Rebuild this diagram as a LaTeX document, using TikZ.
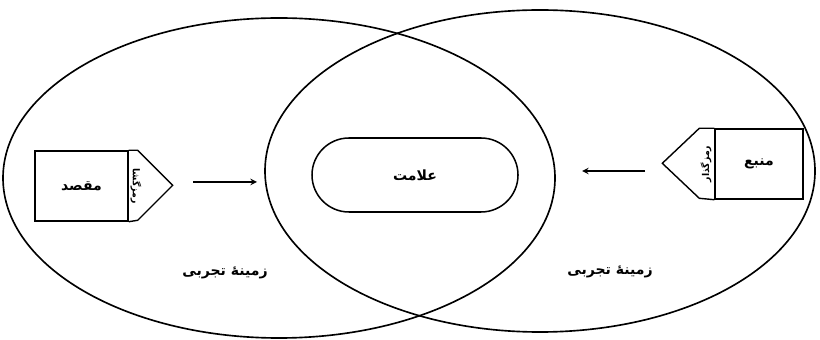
\documentclass[tikz,border=0pt]{standalone}
\usepackage{fontspec}
\newfontfamily\farsi[Script=Arabic]{DejaVu Sans}
\TeXXeTstate=1
\usepackage{tikz}
\usetikzlibrary{positioning}

\tikzset{
  fa/.style={font=\farsi\bfseries\large},
  box/.style={draw, line width=1.2pt, minimum width=2.79cm, minimum height=2.1cm},
}

\begin{document}
\begin{tikzpicture}[x=0.03cm, y=0.03cm, >=stealth]
                \useasboundingbox (0,0) rectangle (820,339);

                % Fields of experience
                \draw[line width=1.4pt] (279,161) ellipse [x radius=276, y radius=160];
                \draw[line width=1.4pt] (540,168) ellipse [x radius=275, y radius=161];
                \node[fa] (fieldL) at (225,66) {\beginR زمینهٔ تجربی\endR};
                \node[fa] (fieldR) at (610,67) {\beginR زمینهٔ تجربی\endR};

                % Signal
                \node[draw, line width=1.3pt, fa, minimum width=6.18cm, minimum height=2.22cm,
                      rounded corners=1.11cm] (signal) at (415,164) {\beginR علامت\endR};

                % Destination and decoder
                \node[box, fa] (dest) at (81.5,153) {\beginR مقصد\endR};
                \draw[line width=1.2pt] (dest.north east) -- ++(9,0) -- ++(35,-35) -- ++(-35,-35) -- (dest.south east);
                \node[rotate=-90, inner sep=0pt, font=\farsi\bfseries\footnotesize] (decoder) at (136,153) {\beginR رمزگشا\endR};

                % Source and encoder
                \node[box, fa, minimum width=2.64cm] (src) at (759,175) {\beginR منبع\endR};
                \draw[line width=1.2pt] (src.north west) -- ++(-15,0) -- ++(-37,-35) -- ++(37,-35) -- (src.south west);
                \node[rotate=90, inner sep=0pt, font=\farsi\bfseries\footnotesize] (encoder) at (706,175) {\beginR رمزگذار\endR};

                % Arrows
                \coordinate (a1) at (193,157);
                \coordinate (a2) at (257,157);
                \coordinate (b1) at (645,168);
                \coordinate (b2) at (582,168);
                \draw[->, line width=1.5pt] (a1) -- (a2);
                \draw[->, line width=1.5pt] (b1) -- (b2);
\end{tikzpicture}
\end{document}
